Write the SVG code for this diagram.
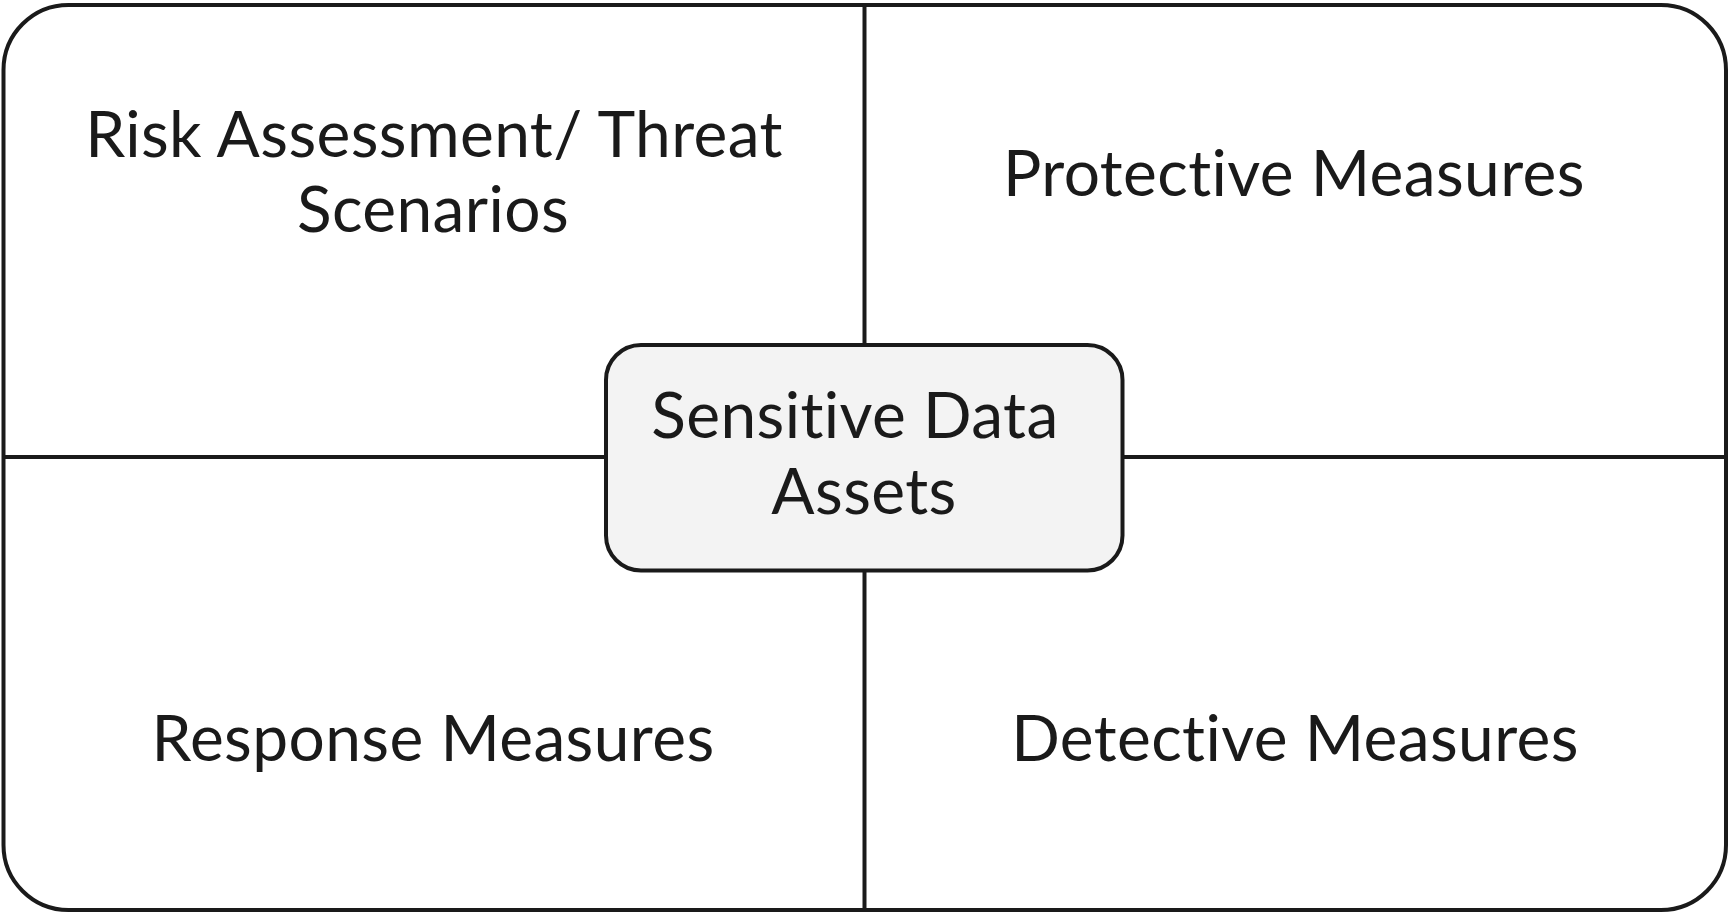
<svg xmlns="http://www.w3.org/2000/svg" width="1729" height="913" viewBox="0 0 1729 913">
<style>
.frame{fill:#ffffff;stroke:#1a1a1a;stroke-width:4}
.line{stroke:#1a1a1a;stroke-width:4;fill:none}
.core{fill:#f3f3f3;stroke:#1a1a1a;stroke-width:4}
.lbl{font-family:Lato,"Liberation Sans",sans-serif;font-size:64px;letter-spacing:0.4px;font-variant-ligatures:none;fill:#1a1a1a;text-anchor:middle}
</style>
<rect width="1729" height="913" fill="#ffffff"/>
<g id="frame"><rect class="frame" x="3.5" y="5" width="1722.5" height="905" rx="65" ry="65"/></g>
<g id="connectors">
<line class="line" x1="864.5" y1="5" x2="864.5" y2="345"/>
<line class="line" x1="864.5" y1="571" x2="864.5" y2="910"/>
<line class="line" x1="3.5" y1="457" x2="606" y2="457"/>
<line class="line" x1="1122.5" y1="457" x2="1726" y2="457"/>
</g>
<g id="risk"><text class="lbl" x="434" y="157">Risk Assessment/ Threat</text><text class="lbl" x="433" y="232">Scenarios</text></g>
<g id="protective"><text class="lbl" x="1294" y="196">Protective Measures</text></g>
<g id="response"><text class="lbl" x="433" y="761">Response Measures</text></g>
<g id="detective"><text class="lbl" x="1295" y="761">Detective Measures</text></g>
<g id="core"><rect class="core" x="606" y="345" width="516.5" height="225.5" rx="35" ry="35"/><text class="lbl" x="855" y="438">Sensitive Data</text><text class="lbl" x="864" y="514">Assets</text></g>
</svg>
